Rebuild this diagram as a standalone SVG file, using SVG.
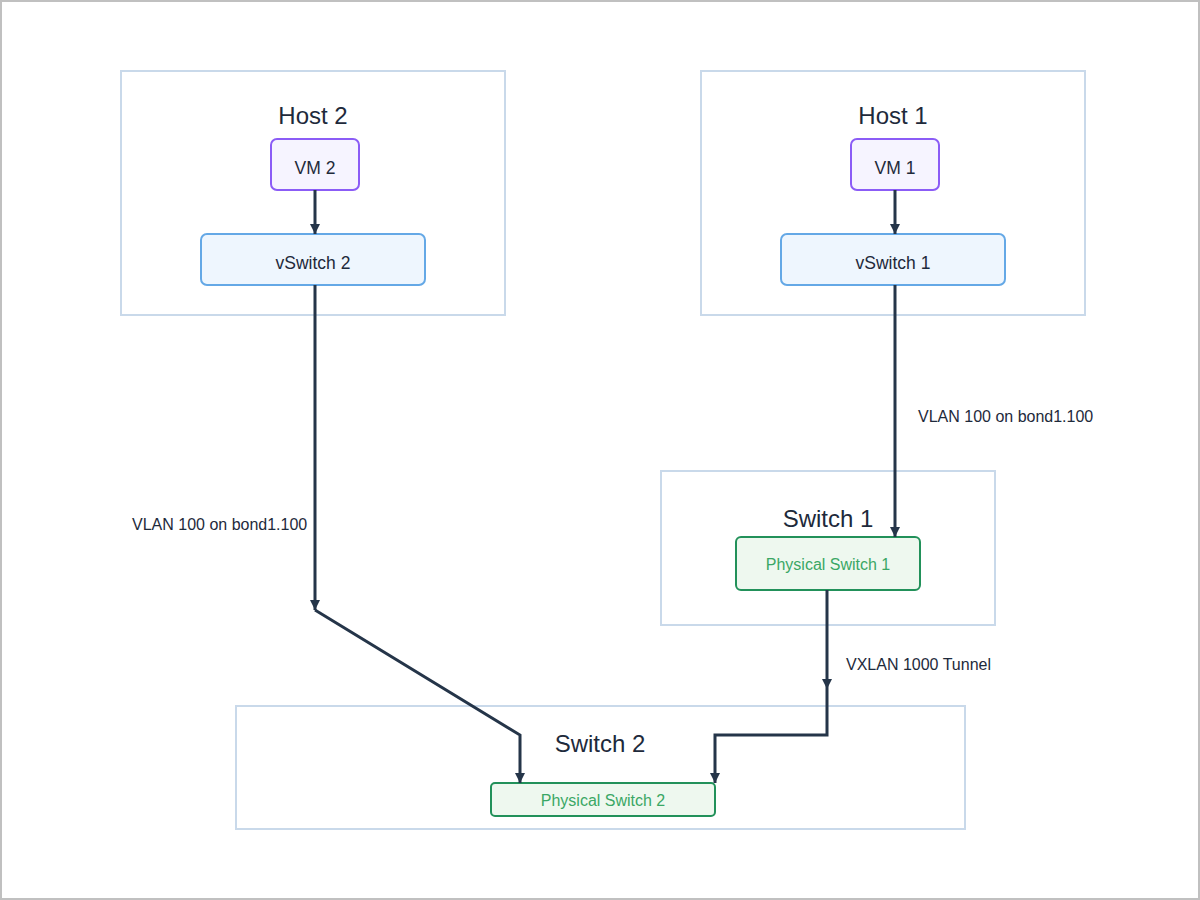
<svg xmlns="http://www.w3.org/2000/svg" width="1200" height="900" viewBox="0 0 1200 900">
<defs>
<marker id="arr" viewBox="0 0 10 10" refX="10" refY="5" markerWidth="10" markerHeight="10" markerUnits="userSpaceOnUse" orient="auto">
<path d="M0,0 L10,5 L0,10 z" fill="#253549"/>
</marker>
<style>
.cl{fill:#ffffff;stroke:#c9d9ea;stroke-width:2}
.title{font-family:"Liberation Sans",Arial,sans-serif;font-size:24px;fill:#1e2a3b;text-anchor:middle}
.lbl{font-family:"Liberation Sans",Arial,sans-serif;font-size:17.5px;fill:#1e2a3b;text-anchor:middle}
.vm{fill:#f6f4ff;stroke:#8b5cf6;stroke-width:2}
.vs{fill:#eef6fe;stroke:#64a8e6;stroke-width:2}
.ps{fill:#eef8ef;stroke:#22915a;stroke-width:2}
.pst{font-family:"Liberation Sans",Arial,sans-serif;font-size:16px;fill:#3aa765;text-anchor:middle}
.e{fill:none;stroke:#253549;stroke-width:3;marker-end:url(#arr)}
.el{font-family:"Liberation Sans",Arial,sans-serif;font-size:16px;fill:#1e2a3b}
</style>
</defs>
<rect x="1" y="1" width="1198" height="898" fill="#ffffff" stroke="#c0c0c0" stroke-width="2"/>
<g id="host2">
<rect class="cl" x="121" y="71" width="384" height="244"/>
<text class="title" x="313" y="124">Host 2</text>
</g>
<g id="host1">
<rect class="cl" x="701" y="71" width="384" height="244"/>
<text class="title" x="893" y="124">Host 1</text>
</g>
<g id="switch1">
<rect class="cl" x="661" y="471" width="334" height="154"/>
<text class="title" x="828" y="527">Switch 1</text>
</g>
<g id="switch2">
<rect class="cl" x="236" y="706" width="729" height="123"/>
<text class="title" x="600" y="752">Switch 2</text>
</g>
<g id="vm2">
<rect class="vm" x="271" y="139" width="88" height="51" rx="6"/>
<text class="lbl" x="315" y="174">VM 2</text>
</g>
<g id="vswitch2">
<rect class="vs" x="201" y="234" width="224" height="51" rx="6"/>
<text class="lbl" x="313" y="269">vSwitch 2</text>
</g>
<g id="vm1">
<rect class="vm" x="851" y="139" width="88" height="51" rx="6"/>
<text class="lbl" x="895" y="174">VM 1</text>
</g>
<g id="vswitch1">
<rect class="vs" x="781" y="234" width="224" height="51" rx="6"/>
<text class="lbl" x="893" y="269">vSwitch 1</text>
</g>
<g id="pswitch1">
<rect class="ps" x="736" y="537" width="184" height="53" rx="5"/>
<text class="pst" x="828" y="570">Physical Switch 1</text>
</g>
<g id="pswitch2">
<rect class="ps" x="491" y="783" width="224" height="33" rx="4"/>
<text class="pst" x="603" y="806">Physical Switch 2</text>
</g>
<g id="connectors">
<path class="e" d="M315,190 L315,234"/>
<path class="e" d="M895,190 L895,234"/>
<path class="e" d="M315,285 L315,610"/>
<path class="e" d="M315,610 L520,735 L520,783"/>
<path class="e" d="M895,285 L895,537"/>
<path class="e" d="M827,590 L827,689"/>
<path class="e" d="M827,689 L827,735 L715,735 L715,783"/>
<text class="el" x="132" y="530">VLAN 100 on bond1.100</text>
<text class="el" x="918" y="422">VLAN 100 on bond1.100</text>
<text class="el" x="846" y="670">VXLAN 1000 Tunnel</text>
</g>
</svg>
